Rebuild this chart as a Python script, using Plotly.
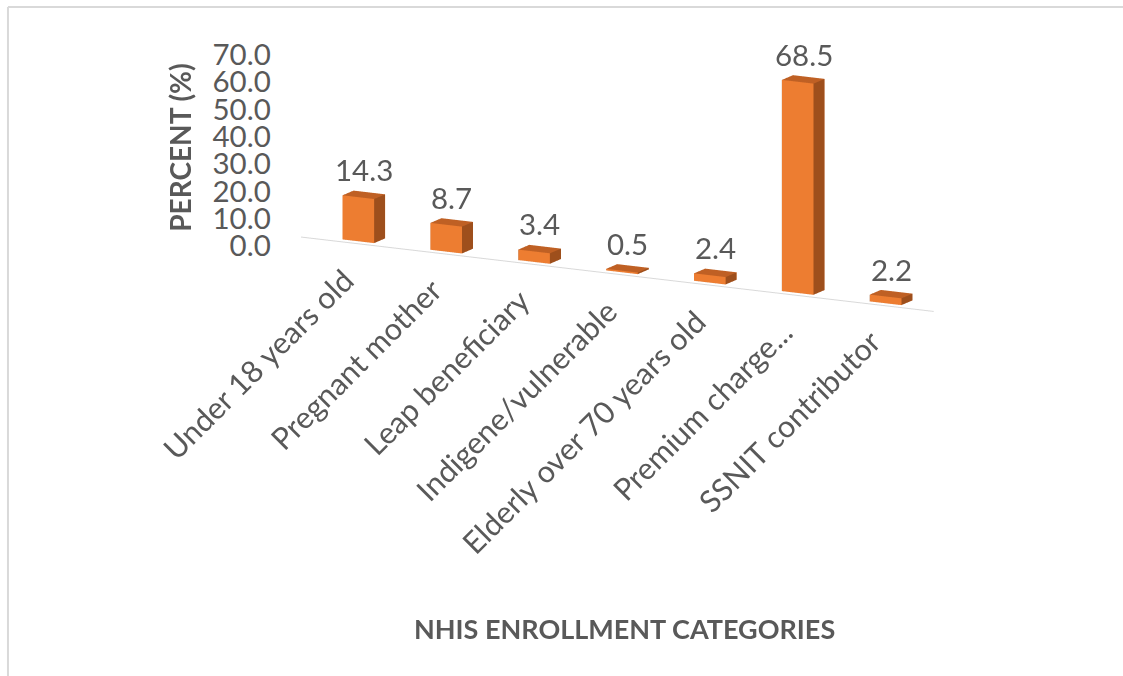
import plotly.graph_objects as go

categories = ["Under 18 years old", "Pregnant mother", "Leap beneficiary",
              "Indigene/vulnerable", "Elderly over 70 years old",
              "Premium charge...", "SSNIT contributor"]
values = [14.3, 8.7, 3.4, 0.5, 2.4, 68.5, 2.2]
value_ticks = [0, 10, 20, 30, 40, 50, 60, 70]

FONT = "Lato"
FS = 29.5
FS_CAT = 30.5
GREY = "#595959"
FRONT = "#ED7D31"
SIDE = "#9E4F1C"
TOP = "#BF6024"
HALF_W = 0.18
HALF_D = 0.12

xs, ys, zs, I, J, K, fc = [], [], [], [], [], [], []
for idx, v in enumerate(values):
    b = len(xs)
    x0, x1 = idx - HALF_W, idx + HALF_W
    y0, y1 = -HALF_D, HALF_D
    corners = [(x0, y0, 0), (x1, y0, 0), (x1, y1, 0), (x0, y1, 0),
               (x0, y0, v), (x1, y0, v), (x1, y1, v), (x0, y1, v)]
    for cx, cy, cz in corners:
        xs.append(cx); ys.append(cy); zs.append(cz)
    faces = [((0, 1, 5), FRONT), ((0, 5, 4), FRONT),
             ((1, 2, 6), SIDE), ((1, 6, 5), SIDE),
             ((4, 5, 6), TOP), ((4, 6, 7), TOP),
             ((3, 2, 6), FRONT), ((3, 6, 7), FRONT),
             ((0, 3, 7), SIDE), ((0, 7, 4), SIDE),
             ((0, 1, 2), TOP), ((0, 2, 3), TOP)]
    for (a, bb, c), col in faces:
        I.append(b + a); J.append(b + bb); K.append(b + c); fc.append(col)

fig = go.Figure()
fig.add_trace(go.Mesh3d(x=xs, y=ys, z=zs, i=I, j=J, k=K, facecolor=fc,
                        flatshading=True, showscale=False, hoverinfo="skip",
                        lighting=dict(ambient=1, diffuse=0, specular=0,
                                      fresnel=0, roughness=1)))
x_lo, x_hi = -0.6, len(values) - 0.4
fig.add_trace(go.Scatter3d(x=[x_lo, x_hi], y=[-0.22, -0.22], z=[0, 0], mode="lines",
                           line=dict(color="#D9D9D9", width=2), hoverinfo="skip",
                           showlegend=False))
# invisible 2D trace so the value axis (tick labels) is drawn
fig.add_trace(go.Scatter(x=[0], y=[value_ticks[0]], mode="markers",
                         marker=dict(opacity=0), hoverinfo="skip", showlegend=False))

ann3d = []
for idx, (cat, v) in enumerate(zip(categories, values)):
    ann3d.append(dict(x=idx, y=-HALF_D, z=0, text=cat, showarrow=False,
                      textangle=-45, xanchor="right", yanchor="top",
                      xshift=4, yshift=-17,
                      font=dict(size=FS_CAT, color=GREY, family=FONT)))
    ann3d.append(dict(x=idx, y=0, z=v, text=f"{v:.1f}", showarrow=False,
                      yanchor="bottom", yshift=6,
                      font=dict(size=FS, color=GREY, family=FONT)))

t = 4.0
AX = 4.41
fig.update_layout(
    width=1123, height=676,
    margin=dict(l=0, r=0, t=0, b=0, autoexpand=False),
    paper_bgcolor="white",
    plot_bgcolor="rgba(0,0,0,0)",
    showlegend=False,
    xaxis=dict(domain=[0.242, 0.26], visible=False, range=[-1, 1], automargin=False),
    yaxis=dict(domain=[0.636, 0.919], range=[0, 70], tickvals=value_ticks,
               tickformat=".1f", showgrid=False, zeroline=False, showline=False,
               ticks="", automargin=False,
               tickfont=dict(size=FS, color=GREY, family=FONT)),
    scene=dict(
        domain=dict(x=[0.124, 0.994], y=[0.52, 1.0]),
        bgcolor="rgba(0,0,0,0)",
        xaxis=dict(visible=False, range=[x_lo, x_hi]),
        yaxis=dict(visible=False, range=[-0.5, 0.5]),
        zaxis=dict(visible=False, range=[0, 70]),
        aspectmode="manual",
        aspectratio=dict(x=AX, y=AX / (x_hi - x_lo), z=1.367),
        camera=dict(eye=dict(x=0.524 * t, y=-1.0 * t, z=0.26 * t),
                    up=dict(x=0, y=0, z=1),
                    projection=dict(type="orthographic")),
        annotations=ann3d,
    ),
    annotations=[
        dict(text="<b>PERCENT (%)</b>", xref="paper", yref="paper", x=0.16, y=0.781,
             xanchor="center", yanchor="middle",
             showarrow=False, textangle=-90,
             font=dict(size=28, color=GREY, family=FONT)),
        dict(text="<b>NHIS ENROLLMENT CATEGORIES</b>", xref="paper", yref="paper",
             x=0.556, y=0.071, xanchor="center", yanchor="middle", showarrow=False,
             font=dict(size=27, color=GREY, family=FONT)),
    ],
    shapes=[
        dict(type="line", xref="paper", yref="paper", x0=0.0071, x1=1.0, y0=0.9896, y1=0.9896,
             line=dict(color="#D9D9D9", width=2)),
        dict(type="line", xref="paper", yref="paper", x0=0.0071, x1=0.0071, y0=0.0, y1=0.9896,
             line=dict(color="#D9D9D9", width=2)),
    ],
)

fig.write_html("out.html")
